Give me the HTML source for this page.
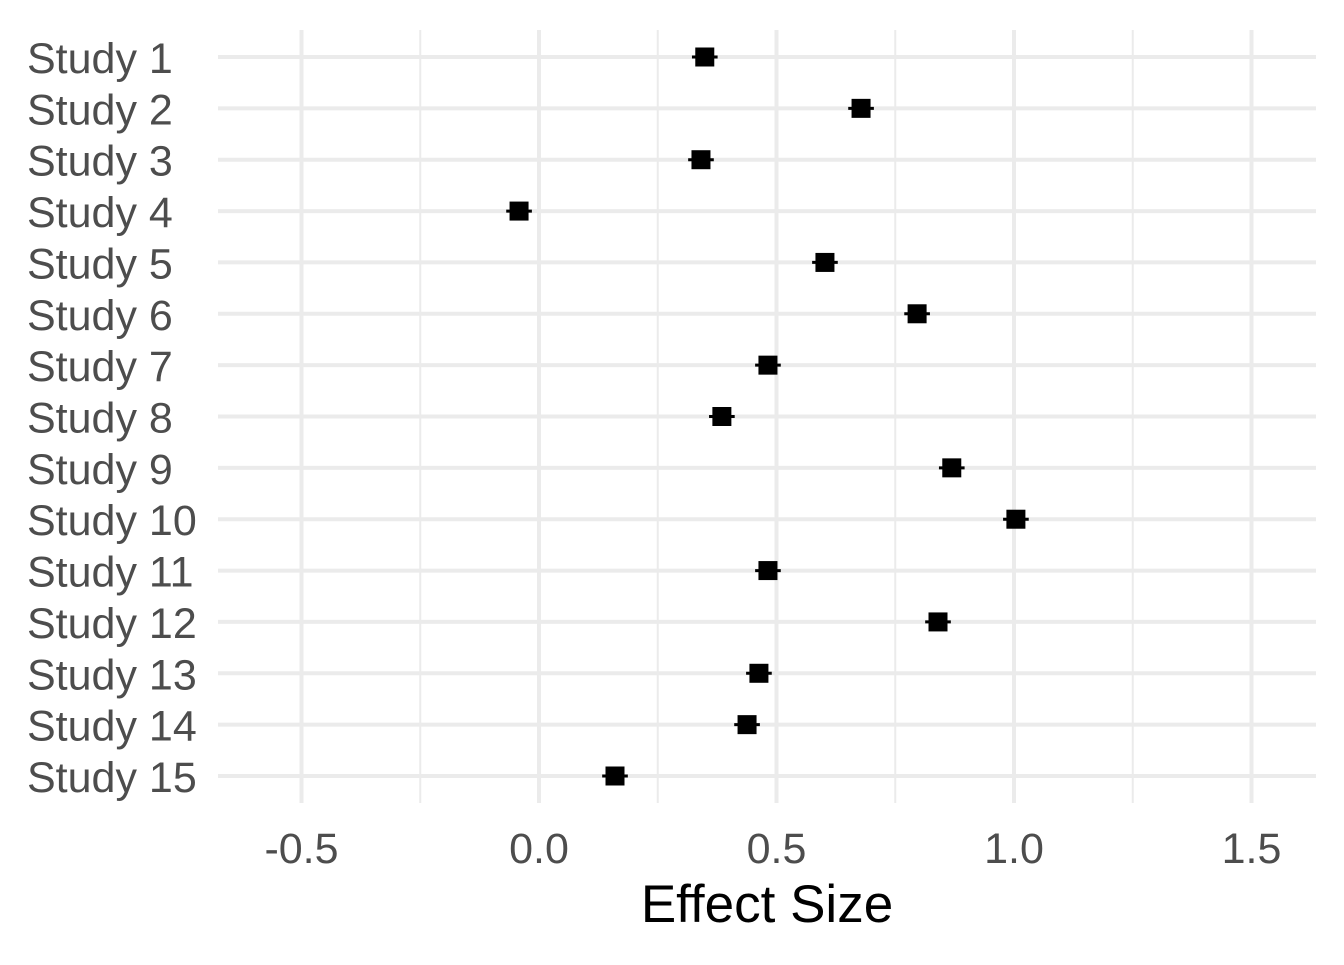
<!DOCTYPE html>
<html><head><meta charset="utf-8"><style>
body{margin:0;background:#fff}
svg text{font-family:"Liberation Sans",Arial,sans-serif}
</style></head><body>
<svg id="chart" width="1344" height="960" viewBox="0 0 1344 960" xmlns="http://www.w3.org/2000/svg">
<g id="grid"></g>
<g id="ylabels"></g>
<g id="xlabels"></g>
<g id="marks"></g>
<text x="767" y="922" font-size="53" text-anchor="middle" fill="#000">Effect Size</text>
</svg>
<script>
const studies=["Study 1","Study 2","Study 3","Study 4","Study 5","Study 6","Study 7","Study 8","Study 9","Study 10","Study 11","Study 12","Study 13","Study 14","Study 15"];
const estimates=[0.349,0.678,0.341,-0.042,0.602,0.796,0.482,0.385,0.869,1.004,0.482,0.840,0.463,0.438,0.160];
const lower=[0.322,0.651,0.314,-0.069,0.575,0.769,0.455,0.358,0.842,0.977,0.455,0.813,0.436,0.411,0.133];
const upper=[0.376,0.705,0.368,-0.015,0.629,0.823,0.509,0.412,0.896,1.031,0.509,0.867,0.490,0.465,0.187];
const xTicks=[-0.5,0,0.5,1.0,1.5];
const xTickLabels=["-0.5","0.0","0.5","1.0","1.5"];
const xMinor=[-0.25,0.25,0.75,1.25];
const NS="http://www.w3.org/2000/svg";
const x=v=>539+v*475;
const y=i=>57+i*(776-57)/(studies.length-1);
function mk(tag,attrs,parent){const e=document.createElementNS(NS,tag);for(const k in attrs)e.setAttribute(k,attrs[k]);document.getElementById(parent).appendChild(e);return e;}
xMinor.forEach(v=>{const l=mk('line',{x1:x(v),x2:x(v),y1:30,y2:803,stroke:'#ebebeb','stroke-width':2},'grid');

});
xTicks.forEach((v,i)=>{const l=mk('line',{x1:x(v),x2:x(v),y1:30,y2:803,stroke:'#ebebeb','stroke-width':4},'grid');


const t=mk('text',{x:x(v),y:863,'font-size':43,'text-anchor':'middle',fill:'#4d4d4d'},'xlabels');t.textContent=xTickLabels[i];

});
studies.forEach((s,i)=>{const l=mk('line',{x1:218,x2:1316,y1:y(i),y2:y(i),stroke:'#ebebeb','stroke-width':4},'grid');


const t=mk('text',{x:27,y:y(i)+16,'font-size':43,fill:'#4d4d4d'},'ylabels');t.textContent=s;


const e=mk('line',{x1:x(lower[i]),x2:x(upper[i]),y1:y(i),y2:y(i),stroke:'#000','stroke-width':3},'marks');


const r=mk('rect',{x:x(estimates[i])-9.5,y:y(i)-9.5,width:19,height:19,fill:'#000'},'marks');

});
</script>
</body></html>
